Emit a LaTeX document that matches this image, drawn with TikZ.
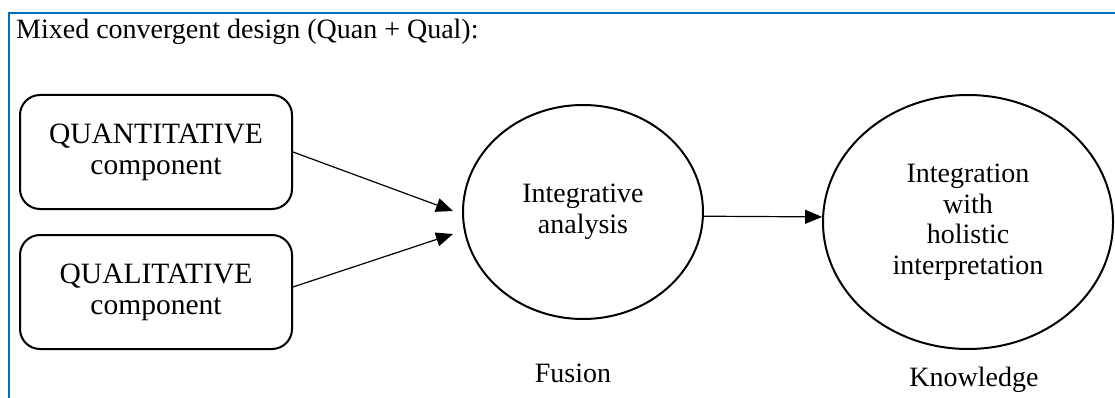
\documentclass[tikz,border=0pt]{standalone}
\usepackage{fontspec}
\setmainfont{Liberation Serif}
\usetikzlibrary{shapes.geometric,arrows.meta}
\definecolor{frameblue}{RGB}{0,112,192}
\tikzset{
  txt/.style={font=\fontsize{28}{30.5}\selectfont, inner sep=0pt, align=center},
  compbox/.style={txt, font=\fontsize{29.5}{31}\selectfont, draw, line width=2pt, rounded corners=20pt, minimum width=272pt, minimum height=114pt},
  ell/.style={txt, draw, ellipse, line width=2pt, inner sep=0pt},
  arr/.style={line width=1.2pt, -{Triangle[length=17pt,width=14pt]}},
}
\begin{document}
\begin{tikzpicture}[x=1pt,y=-1pt]
\useasboundingbox (0,0) rectangle (1115,398);
\draw[frameblue, line width=2pt] (9,398) -- (9,13) -- (1115,13);
\node[txt, anchor=base west] (title) at (16,39) {Mixed convergent design (Quan + Qual):};
\node[compbox] (q1) at (156,152) {QUANTITATIVE\\component};
\node[compbox] (q2) at (156,292) {QUALITATIVE\\component};
\node[ell, minimum width=240pt, minimum height=214pt] (e1) at (583,212) {Integrative\\analysis};
\node[ell, minimum width=290pt, minimum height=254pt] (e2) at (968,222) {Integration\\with\\holistic\\interpretation};
\coordinate (t1) at (453,211);
\coordinate (t2) at (453,234);
\draw[arr] (q1.east) -- (t1);
\draw[arr] ([yshift=5pt]q2.east) -- (t2);
\draw[arr] (e1.-2.5) -- (e2.178);
\node[txt, anchor=base] (fus) at (573,382) {Fusion};
\node[txt, anchor=base] (know) at (974,386) {Knowledge};
\end{tikzpicture}
\end{document}
